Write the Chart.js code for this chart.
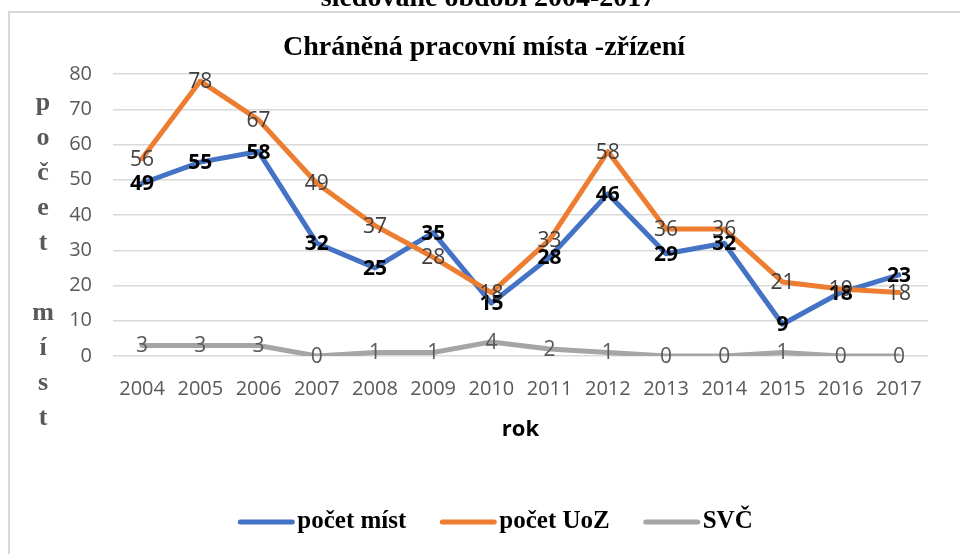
<!DOCTYPE html>
<html>
<head>
<meta charset="utf-8">
<script src="https://cdn.jsdelivr.net/npm/chart.js@4"></script>
<style>
  body { margin: 0; background: #fff; }
  #wrap { position: relative; width: 960px; height: 554px; }
</style>
</head>
<body>
<div id="wrap"><canvas id="chart" width="960" height="554"></canvas></div>
<script>
const years = ["2004","2005","2006","2007","2008","2009","2010","2011","2012","2013","2014","2015","2016","2017"];
const pocetMist = [49, 55, 58, 32, 25, 35, 15, 28, 46, 29, 32, 9, 18, 23];
const pocetUoZ = [56, 78, 67, 49, 37, 28, 18, 33, 58, 36, 36, 21, 19, 18];
const svc = [3, 3, 3, 0, 1, 1, 4, 2, 1, 0, 0, 1, 0, 0];
const yTicks = [0, 10, 20, 30, 40, 50, 60, 70, 80];

const serif = "'Liberation Serif', 'Times New Roman', serif";
const sans = "'Open Sans', 'Liberation Sans', sans-serif";

// label styles per dataset (Excel-like data labels)
const labelStyle = [
  { color: "#000000", weight: "bold" },
  { color: "#404040", weight: "normal" },
  { color: "#595959", weight: "normal" }
];

const extras = {
  id: "extras",
  beforeDraw(chart) {
    const ctx = chart.ctx;
    ctx.save();
    ctx.fillStyle = "#fff";
    ctx.fillRect(0, 0, chart.width, chart.height);
    // frame of the chart object
    ctx.strokeStyle = "#d9d9d9";
    ctx.lineWidth = 2;
    ctx.strokeRect(9, 12, chart.width + 20, chart.height + 20);
    // cut off heading above the chart
    ctx.fillStyle = "#000";
    ctx.font = "bold 28px " + serif;
    ctx.textAlign = "center";
    ctx.textBaseline = "alphabetic";
    ctx.fillText("sledované období 2004-2017", 488, 6);
    ctx.restore();
  },
  afterDatasetsDraw(chart) {
    const ctx = chart.ctx;
    ctx.save();
    ctx.textAlign = "center";
    ctx.textBaseline = "middle";
    chart.data.datasets.forEach((ds, i) => {
      const meta = chart.getDatasetMeta(i);
      const st = labelStyle[i];
      ctx.fillStyle = st.color;
      ctx.font = st.weight + " 21px " + sans;
      meta.data.forEach((pt, j) => {
        ctx.fillText(String(ds.data[j]), pt.x, pt.y + 1);
      });
    });
    ctx.restore();
  },
  afterDraw(chart) {
    const ctx = chart.ctx;
    const area = chart.chartArea;
    ctx.save();
    // chart title
    ctx.fillStyle = "#000";
    ctx.font = "bold 28px " + serif;
    ctx.textAlign = "center";
    ctx.textBaseline = "middle";
    ctx.fillText("Chráněná pracovní místa -zřízení", 484, 48);

    // vertical stacked y axis title
    const letters = ["p", "o", "č", "e", "t", "", "m", "í", "s", "t"];
    ctx.fillStyle = "#595959";
    ctx.font = "bold 26px " + serif;
    letters.forEach((ch, k) => {
      ctx.fillText(ch, 43, 103 + k * 35);
    });

    // x axis title
    ctx.fillStyle = "#000";
    ctx.font = "bold 22px " + sans;
    ctx.fillText("rok", (area.left + area.right) / 2, 430);

    // legend
    ctx.font = "bold 25px " + serif;
    const sample = 58, gap = 2, spacing = 33;
    const items = chart.data.datasets.map(ds => ({
      ds, w: sample + gap + ctx.measureText(ds.label).width
    }));
    const total = items.reduce((s, it) => s + it.w, 0) + spacing * (items.length - 1);
    let x = 495 - total / 2;
    const ly = 522;
    items.forEach(it => {
      ctx.strokeStyle = it.ds.borderColor;
      ctx.lineWidth = 5;
      ctx.lineCap = "round";
      ctx.beginPath();
      ctx.moveTo(x + 3, ly);
      ctx.lineTo(x + sample - 3, ly);
      ctx.stroke();
      ctx.fillStyle = "#000";
      ctx.textAlign = "left";
      ctx.fillText(it.ds.label, x + sample + gap, ly);
      x += it.w + spacing;
    });
    ctx.restore();
  }
};

new Chart(document.getElementById("chart"), {
  type: "line",
  data: {
    labels: years,
    datasets: [
      { label: "počet míst", data: pocetMist, borderColor: "#4472c4", order: 3 },
      { label: "počet UoZ", data: pocetUoZ, borderColor: "#ed7d31", order: 2 },
      { label: "SVČ", data: svc, borderColor: "#a5a5a5", order: 1 }
    ]
  },
  options: {
    responsive: false,
    animation: false,
    layout: { padding: { top: 74, right: 32, bottom: 128, left: 0 } },
    elements: {
      line: { borderWidth: 5, tension: 0, borderJoinStyle: "round", borderCapStyle: "round" },
      point: { radius: 0, hoverRadius: 0 }
    },
    plugins: {
      legend: { display: false },
      title: { display: false },
      tooltip: { enabled: false }
    },
    scales: {
      x: {
        offset: true,
        grid: { display: false },
        border: { display: false },
        ticks: { color: "#595959", font: { family: sans, size: 20 }, padding: 13, maxRotation: 0, autoSkip: false },
        afterFit(scale) { scale.height = 70; }
      },
      y: {
        min: yTicks[0],
        max: yTicks[yTicks.length - 1],
        afterBuildTicks(scale) { scale.ticks = yTicks.map(v => ({ value: v })); },
        grid: { color: "#d9d9d9", lineWidth: 1.5, drawTicks: false },
        border: { display: false },
        ticks: { color: "#595959", font: { family: sans, size: 20 }, padding: 21 },
        afterFit(scale) { scale.width = 113; }
      }
    }
  },
  plugins: [extras]
});
</script>
</body>
</html>
